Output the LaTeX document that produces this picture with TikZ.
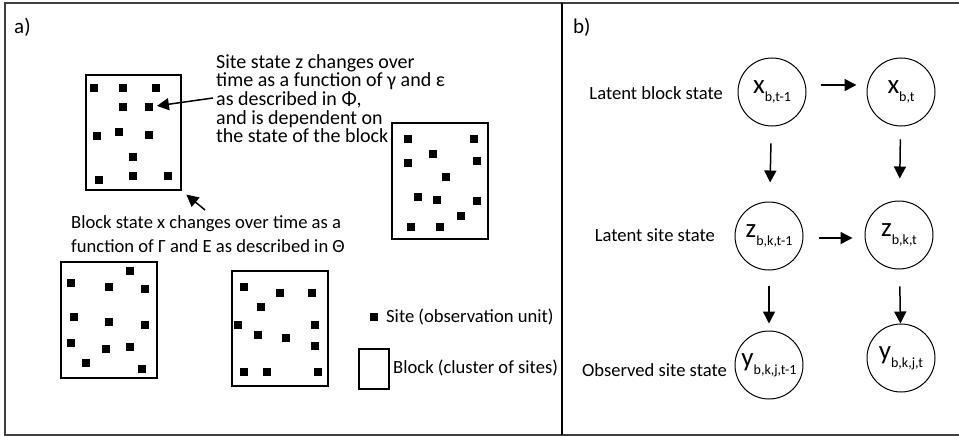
\documentclass[tikz,border=0pt]{standalone}
\usepackage{fontspec}
\setmainfont{Carlito}
\usepackage{tikz}
\usetikzlibrary{arrows.meta}

\tikzset{
  every node/.style={inner sep=0pt, font=\fontsize{18.6}{19}\selectfont},
  site/.style={rectangle, fill=black, minimum size=7.5pt},
  blk/.style={rectangle, draw, line width=1.5pt},
  state/.style={circle, draw, line width=1pt, minimum size=68pt, font=\fontsize{27}{27}\selectfont},
  arr/.style={-{Triangle[length=12pt,width=12pt]}, line width=1.5pt},
}
\newcommand{\lsub}[1]{\raisebox{-8pt}{\fontsize{14}{14}\selectfont #1}}

\begin{document}
\begin{tikzpicture}[x=1pt, y=-1pt]
            \useasboundingbox (0,0) rectangle (959,436);
            % frame and divider
            \draw[line width=1.2pt, black!75] (959,3) -- (5,3) -- (5,435) -- (959,435);
            \draw[line width=2pt] (562,3) -- (562,435);
            \node[anchor=west, font=\fontsize{21}{21}\selectfont] (la) at (14,27) {a)};
            \node[anchor=west, font=\fontsize{21}{21}\selectfont] (lb) at (573,27) {b)};

            % blocks
            \node[blk, minimum width=95pt, minimum height=115pt] (blk1) at (133.5,132.5) {};
            \node[blk, minimum width=96pt, minimum height=116pt] (blk2) at (440,181) {};
            \node[blk, minimum width=96pt, minimum height=116pt] (blk3) at (109,320) {};
            \node[blk, minimum width=96pt, minimum height=115pt] (blk4) at (280,328.5) {};
            \foreach \px/\py [count=\i] in {94/88,123/88,156/88,123/107,149/107,97/136,119/132,149/135,133/157,99/180,133/176,168/176}
                \node[site] (b1s\i) at (\px,\py) {};
            \foreach \px/\py [count=\i] in {408/139,474/139,433/154,408/163,477/161,446/177,418/197,437/200,477/201,461/216,411/227,440/227}
                \node[site] (b2s\i) at (\px,\py) {};
            \foreach \px/\py [count=\i] in {130/271,71/283,109/287,145/289,74/317,109/322,145/325,71/343,106/349,130/347,86/363,142/369}
                \node[site] (b3s\i) at (\px,\py) {};
            \foreach \px/\py [count=\i] in {244/287,280/293,312/293,261/307,238/325,315/325,258/335,286/338,315/346,244/372,267/372,318/372}
                \node[site] (b4s\i) at (\px,\py) {};

            % texts and arrows of panel a
            \node[anchor=north west, align=left, font=\fontsize{20}{18.7}\selectfont] (ztext) at (216,54) {Site state z changes over\\time as a function of γ and ε\\as described in Φ,\\and is dependent on\\the state of the block};
            \node[anchor=north west, align=left, font=\fontsize{18.6}{24.5}\selectfont] (xtext) at (71,215) {Block state x changes over time as a\\function of Γ and E as described in Θ};
            \coordinate (ztail) at (213,98);
            \coordinate (xtail) at (205,210);
            \draw[arr, shorten >=4pt] (ztail) -- (b1s5);
            \draw[arr, shorten >=6pt] (xtail) -- (blk1.south east);

            % legend
            \node[site] (lsite) at (374,317) {};
            \node[anchor=west] (lsitetxt) at (386,317) {Site (observation unit)};
            \node[blk, minimum width=30pt, minimum height=40pt] (lblk) at (374,369) {};
            \node[anchor=west] (lblktxt) at (393,368) {Block (cluster of sites)};

            % panel b
            \node[state] (x1) at (772,92) {x\lsub{b,t-1}};
            \node[state] (x2) at (901,92) {x\lsub{b,t}};
            \node[state] (z1) at (769,236) {z\lsub{b,k,t-1}};
            \node[state] (z2) at (899,235) {z\lsub{b,k,t}};
            \node[state] (y1) at (769,365) {y\lsub{b,k,j,t-1}};
            \node[state] (y2) at (901,358) {y\lsub{b,k,j,t}};
            \node[anchor=east] (lx) at (723,93) {Latent block state};
            \node[anchor=east] (lz) at (715,235) {Latent site state};
            \node[anchor=east] (ly) at (727,370) {Observed site state};
            \draw[arr, shorten <=14pt, shorten >=10pt] ([yshift=7pt]x1.east) -- ([yshift=7pt]x2.west);
            \draw[arr, shorten <=15pt, shorten >=12pt] ([yshift=-2pt]z1.east) -- ([yshift=-3pt]z2.west);
            \draw[arr, shorten <=17pt, shorten >=19pt] (x1) -- (z1);
            \draw[arr, shorten <=13pt, shorten >=22pt] (x2) -- (z2);
            \draw[arr, shorten <=15pt, shorten >=7pt] (z1) -- (y1);
            \draw[arr, shorten <=17pt, shorten >=0pt] (z2) -- (y2);
        \end{tikzpicture}
\end{document}
